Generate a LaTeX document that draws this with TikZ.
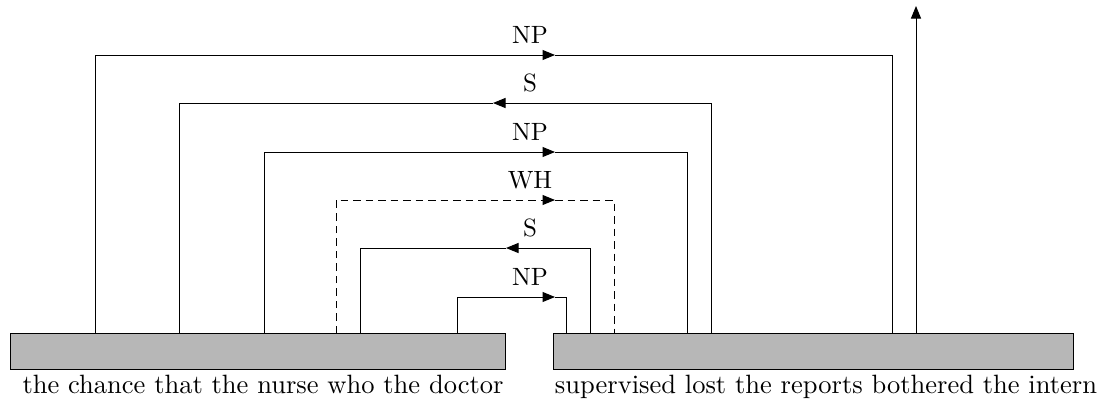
\documentclass[tikz,border=0pt]{standalone}
\usetikzlibrary{arrows.meta}
\definecolor{boxgray}{RGB}{183,183,183}
\begin{document}
\begin{tikzpicture}[x=0.4pt,y=-0.4pt,
  wordbox/.style={draw, fill=boxgray, inner sep=0pt, minimum height=14.4pt, anchor=north west},
  link/.style={line width=0.4pt},
  tip/.style={-{Triangle[length=5pt,width=4pt]}},
  lbl/.style={anchor=base, inner sep=0pt},
  words/.style={anchor=base, inner sep=0pt, font=\fontsize{10.6pt}{13pt}\selectfont}]
\useasboundingbox (0,0) rectangle (1101,400);
% boxes
\node[wordbox, minimum width=198pt] (B1) at (10,333) {};
\node[wordbox, minimum width=208pt] (B2) at (553,333) {};
\node[words] (T1) at (263,393) {the chance that the nurse who the doctor};
\node[words] (T2) at (826,393) {supervised lost the reports bothered the intern};
% attachment points
\foreach \n/\x in {a/95,b/179,c/264,d/336,e/360,f/457}{\coordinate (\n) at (\x,333);}
\foreach \n/\x in {A/892,B/711,C/687,D/614,E/590,F/566,G/916}{\coordinate (\n) at (\x,333);}
% mid-arrow points
\coordinate (m1) at (555,55);
\coordinate (m2) at (493,103);
\coordinate (m3) at (555,152);
\coordinate (m4) at (555,200);
\coordinate (m5) at (506,248);
\coordinate (m6) at (555,297);
\coordinate (top) at (916,6);
% 1 NP
\draw[link,tip] (a) |- (m1);
\draw[link] (m1) -| (A);
\node[lbl] (l1) at (530,43) {NP};
% 2 S (leftward)
\draw[link,tip] (B) |- (m2);
\draw[link] (m2) -| (b);
\node[lbl] (l2) at (530,91) {S};
% 3 NP
\draw[link,tip] (c) |- (m3);
\draw[link] (m3) -| (C);
\node[lbl] (l3) at (530,140) {NP};
% 4 WH dashed
\draw[link,tip,dash pattern=on 3pt off 2pt] (d) |- (m4);
\draw[link,dash pattern=on 3pt off 2pt] (m4) -| (D);
\node[lbl] (l4) at (530,188) {WH};
% 5 S (leftward)
\draw[link,tip] (E) |- (m5);
\draw[link] (m5) -| (e);
\node[lbl] (l5) at (530,236) {S};
% 6 NP
\draw[link,tip] (f) |- (m6);
\draw[link] (m6) -| (F);
\node[lbl] (l6) at (530,285) {NP};
% up arrow
\draw[link,tip] (G) -- (top);
\end{tikzpicture}
\end{document}
